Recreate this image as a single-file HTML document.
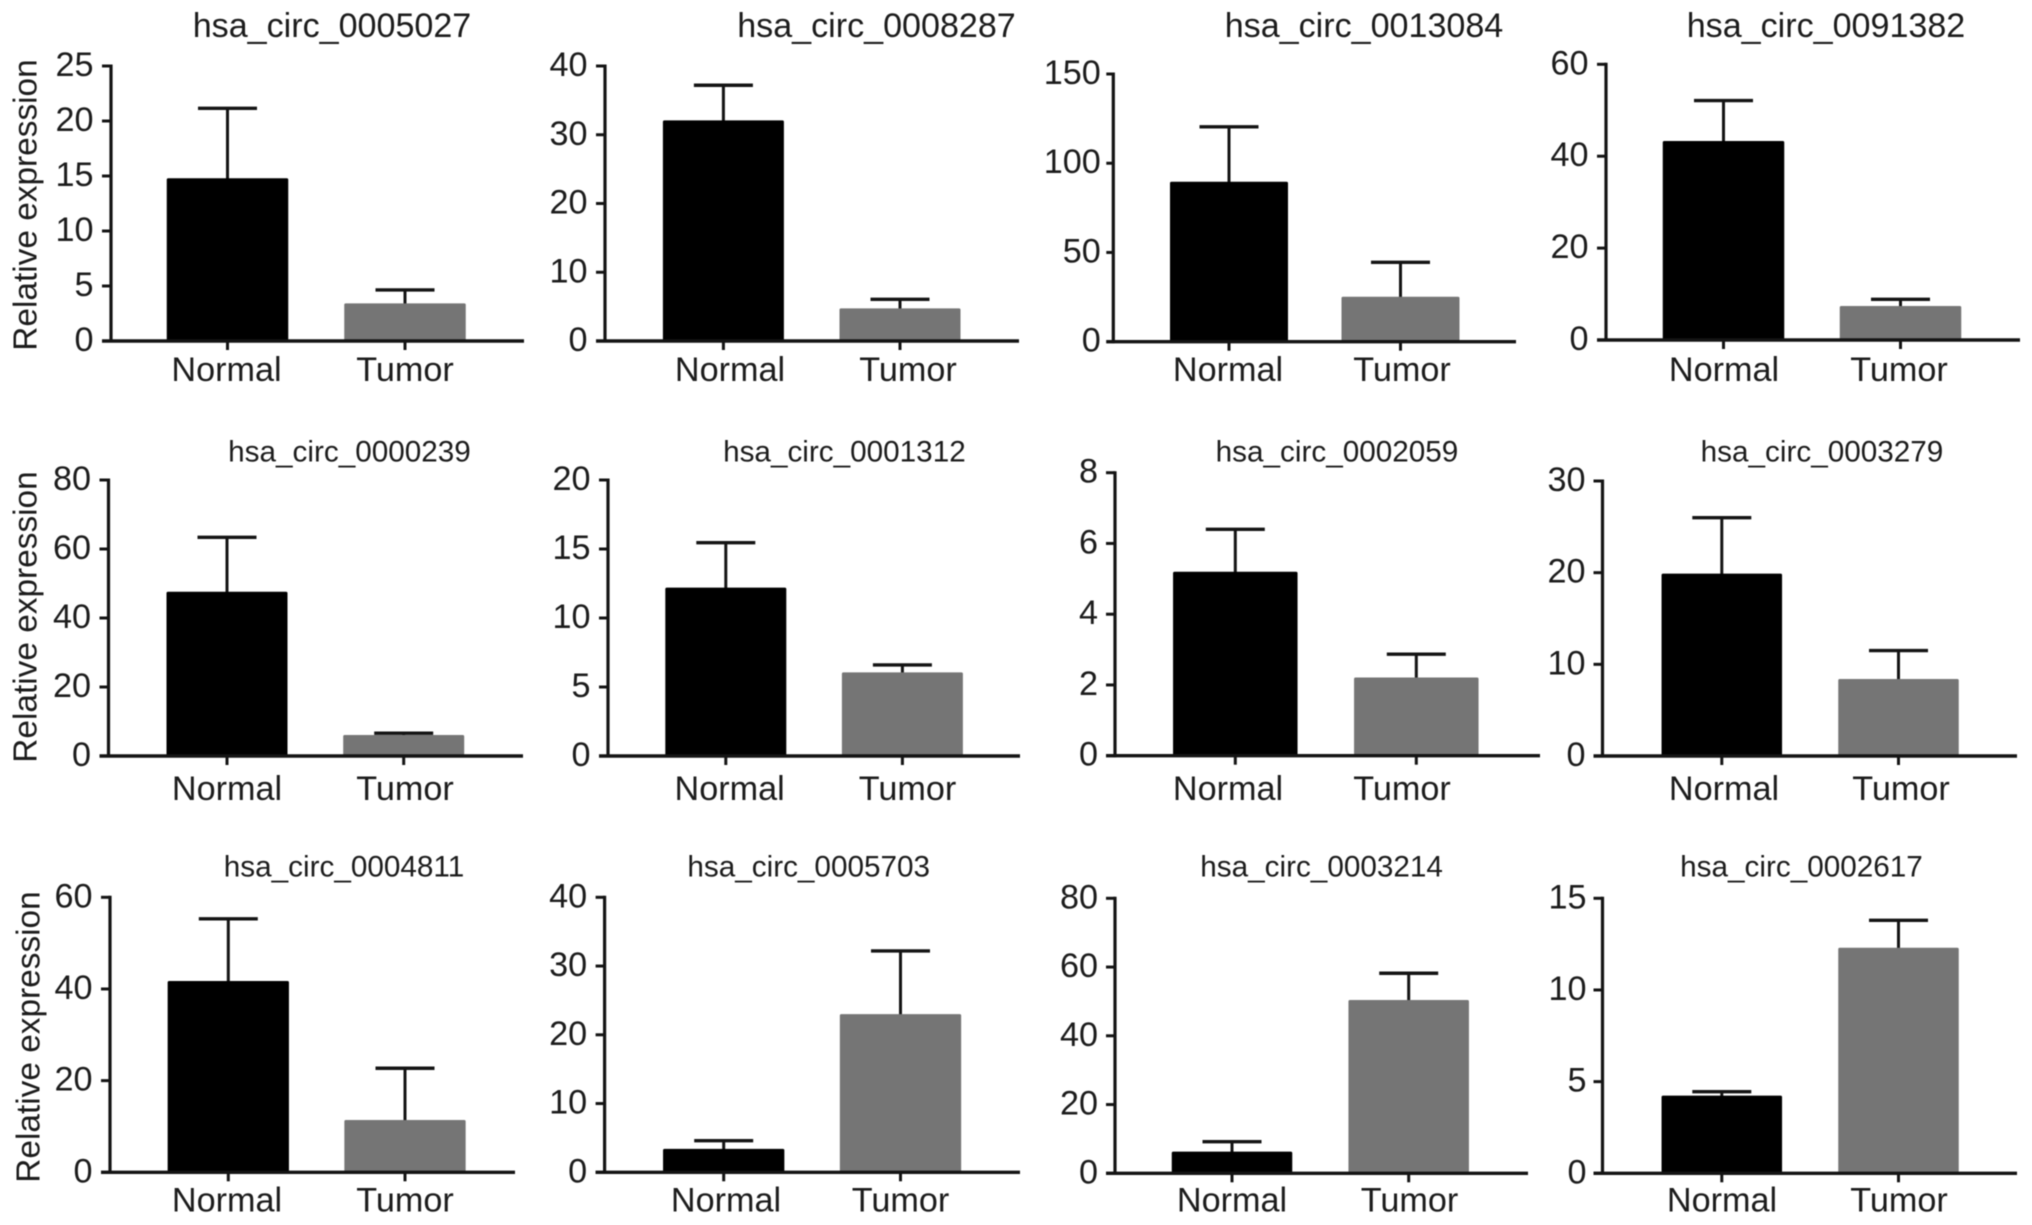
<!DOCTYPE html>
<html lang="en">
<head>
<meta charset="utf-8">
<title>Relative expression of circRNAs in normal and tumor tissue</title>
<style>
  html, body { margin: 0; padding: 0; background: #fff; }
  svg { display: block; filter: blur(0.55px); }
  text { font-family: "Liberation Sans", Arial, sans-serif; fill: #1c1c1c; }
</style>
</head>
<body>
<svg id="figure" xmlns="http://www.w3.org/2000/svg" width="2032" height="1225" viewBox="0 0 2032 1225">
  <rect x="0" y="0" width="2032" height="1225" fill="#ffffff"/>
</svg>
<script>
// ---- chart data, one entry per panel ----
const panelTitles = [
  'hsa_circ_0005027', 'hsa_circ_0008287', 'hsa_circ_0013084', 'hsa_circ_0091382',
  'hsa_circ_0000239', 'hsa_circ_0001312', 'hsa_circ_0002059', 'hsa_circ_0003279',
  'hsa_circ_0004811', 'hsa_circ_0005703', 'hsa_circ_0003214', 'hsa_circ_0002617'
];
const categories = ['Normal', 'Tumor'];
const yAxisTitle = 'Relative expression';
const normalMeans = [14.8, 32.1, 89.6, 43.3, 47.6, 12.2, 5.2, 19.9, 41.75, 3.4, 6.3, 4.24];
const normalErrorTops = [21.15, 37.2, 120.4, 52.1, 63.4, 15.46, 6.4, 26, 55.3, 4.6, 9.2, 4.45];
const tumorMeans = [3.42, 4.75, 25.2, 7.4, 6.1, 6.06, 2.21, 8.4, 11.4, 23, 50.4, 12.3];
const tumorErrorTops = [4.64, 6.06, 44.5, 8.85, 6.6, 6.6, 2.87, 11.5, 22.7, 32.2, 58.2, 13.8];
const yTickLabels = [
  [0, 5, 10, 15, 20, 25],
  [0, 10, 20, 30, 40],
  [0, 50, 100, 150],
  [0, 20, 40, 60],
  [0, 20, 40, 60, 80],
  [0, 5, 10, 15, 20],
  [0, 2, 4, 6, 8],
  [0, 10, 20, 30],
  [0, 20, 40, 60],
  [0, 10, 20, 30, 40],
  [0, 20, 40, 60, 80],
  [0, 5, 10, 15]
];

// ---- page layout (frame of each panel, independent of the values) ----
const panelFrames = [
  {ax:111,  top:66,    bottom:341,   right:524,  c0:227.5,  c1:405,    barW:121.5, lab0:226.5,lab1:405,  tx:332,    ty:37,    ts:34.1, lb:381,    gap:17.5, tl:9},
  {ax:605,  top:66,    bottom:341,   right:1019, c0:723.4,  c1:900,    barW:121,   lab0:730,  lab1:908,  tx:876.5,  ty:37,    ts:34.1, lb:381,    gap:17.5, tl:9},
  {ax:1113.3,top:74,   bottom:341.7, right:1516, c0:1229,   c1:1400.5, barW:118,   lab0:1228, lab1:1402, tx:1364,   ty:37,    ts:34.1, lb:381,    gap:12.5, tl:7},
  {ax:1606, top:64.3,  bottom:340,   right:2020, c0:1723.5, c1:1900.5, barW:121.5, lab0:1724, lab1:1899, tx:1826,   ty:37,    ts:34.1, lb:381,    gap:17.5, tl:9},
  {ax:108.5,top:480,   bottom:756,   right:523,  c0:227,    c1:403.7,  barW:121,   lab0:227,  lab1:405,  tx:349.5,  ty:461.7, ts:29.7, lb:800,    gap:17.5, tl:9},
  {ax:608,  top:480,   bottom:756,   right:1020, c0:725.8,  c1:902.4,  barW:121,   lab0:729.6,lab1:907.5,tx:844.4,  ty:461.7, ts:29.7, lb:800,    gap:17.5, tl:9},
  {ax:1115, top:472.7, bottom:755.7, right:1540, c0:1235.3, c1:1416.3, barW:124.5, lab0:1228, lab1:1402, tx:1337,   ty:461.7, ts:29.7, lb:800,    gap:17,   tl:9},
  {ax:1602.5,top:481,  bottom:756,   right:2017, c0:1721.8, c1:1898.5, barW:120.5, lab0:1724, lab1:1901, tx:1822,   ty:461.7, ts:29.7, lb:800,    gap:17,   tl:9},
  {ax:110,  top:897.3, bottom:1172.3,right:515,  c0:228.3,  c1:405,    barW:121.3, lab0:227,  lab1:405,  tx:344,    ty:876.7, ts:29.7, lb:1211.7, gap:17.5, tl:9},
  {ax:604.6,top:897.3, bottom:1172.3,right:1020, c0:723.7,  c1:900.5,  barW:121.3, lab0:726,  lab1:900.5,tx:808.7,  ty:876.7, ts:29.7, lb:1211.7, gap:17.5, tl:9},
  {ax:1115, top:898.3, bottom:1173.3,right:1528, c0:1232,   c1:1408.7, barW:120.5, lab0:1232, lab1:1409.5,tx:1321.6,ty:876.7, ts:29.7, lb:1211.7, gap:17,   tl:9},
  {ax:1602.5,top:898.3,bottom:1173.3,right:2017, c0:1721.8, c1:1898.5, barW:120.5, lab0:1722, lab1:1899, tx:1801.5, ty:876.7, ts:29.7, lb:1211.7, gap:16,   tl:9}
];
const yTitleFrames = [
  {panel:0, x:36.5, y:205},
  {panel:4, x:36.5, y:617},
  {panel:8, x:39.5, y:1037}
];
const barColors = ['#000000', '#757575'];
const inkColor = '#141414';
const labelFontSize = 34.2;

const SVG_NS = 'http://www.w3.org/2000/svg';
const figure = document.getElementById('figure');

function make(tag, attrs, parent) {
  const el = document.createElementNS(SVG_NS, tag);
  for (const k in attrs) el.setAttribute(k, attrs[k]);
  parent.appendChild(el);
  return el;
}
function line(x1, y1, x2, y2, w, parent) {
  return make('line', {x1: x1, y1: y1, x2: x2, y2: y2, stroke: inkColor, 'stroke-width': w}, parent);
}

panelTitles.forEach(function (title, p) {
  const f = panelFrames[p];
  const ticks = yTickLabels[p];
  const yMax = ticks[ticks.length - 1];
  const means = [normalMeans[p], tumorMeans[p]];
  const errorTops = [normalErrorTops[p], tumorErrorTops[p]];

  // axis functions
  const yScale = function (v) { return f.bottom - (v / yMax) * (f.bottom - f.top); };
  const xScale = function (i) { return f.c0 + i * (f.c1 - f.c0); };

  const g = make('g', {}, figure);
  
  

  const titleEl = make('text', {x: f.tx, y: f.ty, 'text-anchor': 'middle', 'font-size': f.ts}, g);
  titleEl.textContent = title;
  
  

  // bars and error bars
  categories.forEach(function (cat, i) {
    const cx = xScale(i);
    const yTop = yScale(means[i]);
    const yErr = yScale(errorTops[i]);

    const stem = line(cx, yTop + 3, cx, yErr, 3, g);
    
    

    const cap = line(cx - 29.5, yErr, cx + 29.5, yErr, 3.4, g);
    
    

    const bar = make('rect', {
      x: cx - f.barW / 2, y: yTop, width: f.barW, height: f.bottom - yTop,
      fill: barColors[i], rx: 1.5
    }, g);
    
    

    const tick = line(cx, f.bottom, cx, f.bottom + 9, 3, g);
    
    

    const label = make('text', {x: i === 0 ? f.lab0 : f.lab1, y: f.lb, 'text-anchor': 'middle', 'font-size': labelFontSize}, g);
    label.textContent = cat;
    
    
  });

  // axes
  const yAxis = line(f.ax, f.top - 1.5, f.ax, f.bottom + 1.5, 3.2, g);
  
  

  const xAxis = line(f.ax - f.tl, f.bottom, f.right, f.bottom, 3.4, g);
  
  

  ticks.forEach(function (v) {
    const y = yScale(v);
    const tick = line(f.ax - f.tl, y, f.ax, y, 3, g);
    
    

    const label = make('text', {x: f.ax - f.gap, y: y + 10, 'text-anchor': 'end', 'font-size': labelFontSize}, g);
    label.textContent = String(v);
    
    
  });
});

yTitleFrames.forEach(function (t) {
  const el = make('text', {
    x: t.x, y: t.y, 'text-anchor': 'middle', 'font-size': 33.4,
    transform: 'rotate(-90 ' + t.x + ' ' + t.y + ')'
  }, figure);
  el.textContent = yAxisTitle;
  
  
});
</script>
</body>
</html>
